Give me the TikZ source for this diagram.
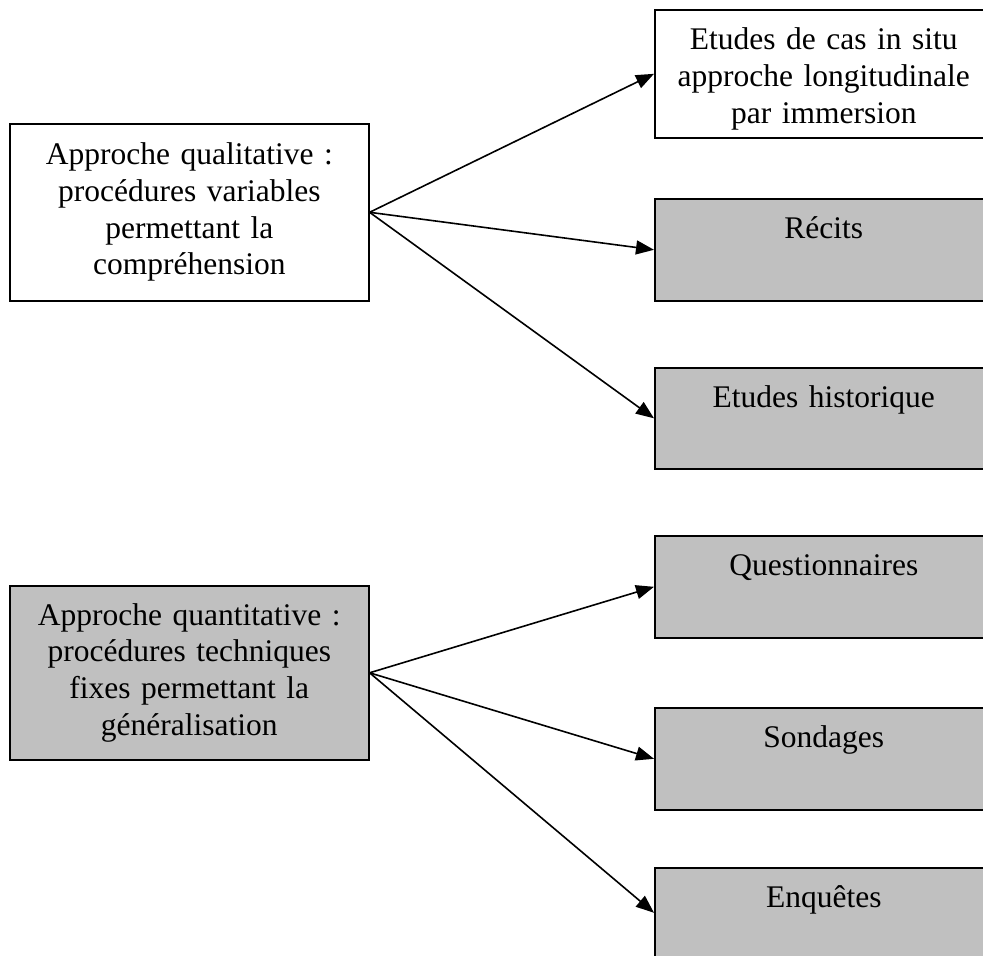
\documentclass[tikz,border=0pt]{standalone}
\usepackage{fontspec}
\setmainfont{Liberation Serif}
\usetikzlibrary{arrows.meta}
\definecolor{boxgray}{RGB}{192,192,192}
\tikzset{
  boite/.style={draw,rectangle,line width=1.6pt,inner sep=0pt,anchor=north west,align=center,font=\fontsize{31.5pt}{36.7pt}\selectfont},
  approche/.style={boite,text width=359pt},
  methode/.style={boite,fill=boxgray,text width=338pt,text height=40pt},
  fleche/.style={line width=1.6pt,-{Triangle[length=18pt,width=14pt]}}
}
\begin{document}
\begin{tikzpicture}[x=1pt,y=-1pt]
    \useasboundingbox (0,0) rectangle (983,956);
    % approches
    \node[approche,minimum height=177pt] (qual) at (9,123) {Approche qualitative :\\procédures variables\\permettant la\\compréhension};
    \node[approche,fill=boxgray,minimum height=174pt] (quant) at (9,585) {Approche quantitative :\\procédures techniques\\fixes permettant la\\généralisation};
    % methodes
    \node[methode,fill=white,text depth=88pt] (cas) at (654,9) {Etudes de cas in situ\\approche longitudinale\\par immersion};
    \node[methode,text depth=62pt] (recits) at (654,198) {Récits};
    \node[methode,text depth=61pt] (hist) at (654,367) {Etudes historique};
    \node[methode,text depth=62pt] (quest) at (654,535) {Questionnaires};
    \node[methode,text depth=62pt] (sond) at (654,707) {Sondages};
    \node[methode,text depth=50pt] (enq) at (654,867) {Enquêtes};
    % fleches
    \foreach \cible in {cas,recits,hist}
        \draw[fleche] (qual.east) -- (\cible.west);
    \foreach \cible in {quest,sond,enq}
        \draw[fleche] (quant.east) -- (\cible.west);
\end{tikzpicture}
\end{document}
